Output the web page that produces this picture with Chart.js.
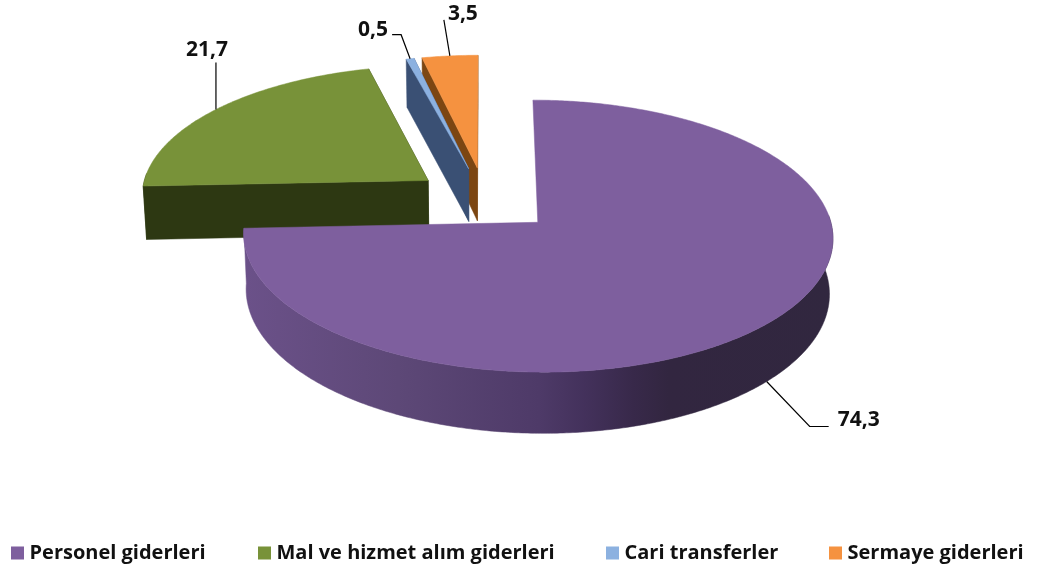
<!DOCTYPE html>
<html><head><meta charset="utf-8">
<script src="https://cdn.jsdelivr.net/npm/chart.js@4"></script>
<style>html,body{margin:0;padding:0;background:#fff}canvas{display:block}</style>
</head><body><canvas id="c" width="1045" height="567"></canvas>
<script>
const categories = ["Personel giderleri","Mal ve hizmet alım giderleri","Cari transferler","Sermaye giderleri"];
const values = [74.3,21.7,0.5,3.5];
const valueLabels = ["74,3","21,7","0,5","3,5"];
const topColors = ["#7e5f9e","#789239","#8cb1e0","#f59240"];
const wallColors = ["#4f3c6a","#2d3812","#3a5074","#7c4612"];
const drawOrder = [3,2,1,0];
// projection of the exploded disc onto the page
const VIEW = {cx:485, cy:199.5, kx:288, ky:130, persp:0.1, depth:54, taper:0.99};
// leader lines: offsets from each slice's rim anchor, text placement
const leaders = [
  {pts:[[43,45],[62,45]], text:[71,39], align:"left", onWall:true},
  {pts:[[0,-47]], text:[-9,-59], align:"center"},
  {pts:[[-9,-24],[-18,-24]], text:[-22,-29], align:"right"},
  {pts:[[-6,-36]], text:[13,-42], align:"center"}
];
const LABEL_FONT = 'bold 21px "Open Sans"';
const LEGEND_FONT = 'bold 20px "Open Sans"';
const legendLayout = {xs:[11,258,606,829], y:553, box:13, gap:18.5};

function proj(u,v,z){
  const s = 1/(1 - VIEW.persp*v);
  const t = z ? VIEW.taper : 1;
  return [VIEW.cx + VIEW.kx*u*s*t, VIEW.cy + VIEW.ky*v*s + (z?VIEW.depth*s:0)];
}
const pie3d = {
  id:'pie3d',
  beforeDatasetDraw(){ return false; },
  afterDatasetsDraw(chart){
    const ctx = chart.ctx, arcs = chart.getDatasetMeta(0).data;
    const geo = arcs.map(a=>{
      const mid=(a.startAngle+a.endAngle)/2, e=a.options.offset/4/a.outerRadius;
      const ou=Math.cos(mid)*e, ov=Math.sin(mid)*e;
      const pt=(ang,r)=>[ou+Math.cos(ang)*r, ov+Math.sin(ang)*r];
      return {a,mid,ou,ov,pt};
    });
    const poly=(pts,fill)=>{ctx.beginPath();pts.forEach((p,i)=>i?ctx.lineTo(p[0],p[1]):ctx.moveTo(p[0],p[1]));ctx.closePath();ctx.fillStyle=fill;ctx.fill();ctx.strokeStyle=fill;ctx.lineWidth=0.5;ctx.stroke();};
    drawOrder.forEach(i=>{
      const g=geo[i], a=g.a, n=Math.max(8,Math.ceil((a.endAngle-a.startAngle)/0.01));
      const rim=[]; for(let k=0;k<=n;k++){rim.push(a.startAngle+(a.endAngle-a.startAngle)*k/n);}
      const apex=[g.ou,g.ov];
      // outer wall (only the part facing the viewer)
      const front=rim.filter(t=>Math.sin(t)>-0.06);
      if(front.length>1){
        const up=front.map(t=>{const p=g.pt(t,1);return proj(p[0],p[1],false);});
        const dn=front.map(t=>{const p=g.pt(t,1);return proj(p[0],p[1],true);}).reverse();
        let fill=wallColors[i];
        if(i===0){
          fill=ctx.createLinearGradient(245,0,833,0);
          fill.addColorStop(0,'#6b5189');fill.addColorStop(0.26,'#5d4877');fill.addColorStop(0.5,'#4e3a68');
          fill.addColorStop(0.58,'#43315b');fill.addColorStop(0.66,'#38294a');fill.addColorStop(0.72,'#322640');fill.addColorStop(1,'#31273f');
        }
        poly(up.concat(dn),fill);
      }
      // radial walls (a reflex slice turns them away from the viewer)
      if(a.endAngle-a.startAngle<Math.PI){
        [a.endAngle,a.startAngle].forEach(t=>{
          const p=g.pt(t,1);
          poly([proj(apex[0],apex[1],false),proj(p[0],p[1],false),proj(p[0],p[1],true),proj(apex[0],apex[1],true)],wallColors[i]);
        });
      }
      // top face
      const top=[proj(apex[0],apex[1],false)].concat(rim.map(t=>{const p=g.pt(t,1);return proj(p[0],p[1],false);}));
      poly(top,topColors[i]);
    });
    // leaders and value labels
    ctx.save();
    ctx.font=LABEL_FONT; ctx.textBaseline='middle';
    geo.forEach((g,i)=>{
      const L=leaders[i], p=g.pt(g.mid,1), s=proj(p[0],p[1],!!L.onWall);
      ctx.beginPath(); ctx.moveTo(s[0],s[1]);
      L.pts.forEach(d=>ctx.lineTo(s[0]+d[0],s[1]+d[1]));
      ctx.strokeStyle='#000'; ctx.lineWidth=1.2; ctx.stroke();
      ctx.fillStyle='#111'; ctx.textAlign=L.align;
      ctx.fillText(valueLabels[i],s[0]+L.text[0],s[1]+L.text[1]);
    });
    // legend row
    ctx.font=LEGEND_FONT; ctx.textAlign='left';
    categories.forEach((c,i)=>{
      const x=legendLayout.xs[i], y=legendLayout.y, b=legendLayout.box;
      ctx.fillStyle=topColors[i]; ctx.fillRect(x,y-b/2,b,b);
      ctx.fillStyle='#111'; ctx.fillText(c,x+legendLayout.gap,y);
    });
    ctx.restore();
  }
};
new Chart(document.getElementById('c'),{
  type:'pie',
  data:{labels:categories,datasets:[{data:values,backgroundColor:topColors,borderWidth:0,offset:163}]},
  options:{
    responsive:false,animation:false,
    layout:{padding:{bottom:77}},
    plugins:{tooltip:{enabled:false},legend:{display:false}}
  },
  plugins:[pie3d]
});
</script>
</body></html>
